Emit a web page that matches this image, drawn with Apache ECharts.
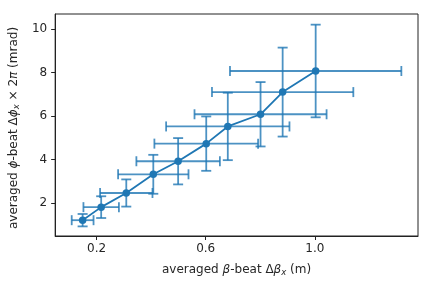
<!DOCTYPE html>
<html>
<head>
<meta charset="utf-8">
<script src="https://cdn.jsdelivr.net/npm/echarts@6/dist/echarts.min.js"></script>
<style>html,body{margin:0;padding:0;background:#fff;}#c{width:432px;height:288px;}</style>
</head>
<body>
<div id="c"></div>
<script>
var xVals = [0.149, 0.217, 0.309, 0.408, 0.499, 0.602, 0.681, 0.801, 0.882, 1.003];
var xErr  = [0.040, 0.065, 0.096, 0.129, 0.153, 0.190, 0.226, 0.242, 0.259, 0.314];
var yVals = [1.21, 1.81, 2.46, 3.32, 3.92, 4.73, 5.52, 6.08, 7.10, 8.07];
var yErr  = [0.285, 0.50, 0.625, 0.895, 1.065, 1.25, 1.55, 1.48, 2.045, 2.13];
var xTicks = [0.2, 0.6, 1.0];
var yTicks = [2, 4, 6, 8, 10];

var C0 = '#1f77b4';
var FONT = 'DejaVu Sans';
var TXT = '#262626';

var pts = xVals.map(function (x, i) { return [x, yVals[i]]; });
var errData = xVals.map(function (x, i) { return [x, yVals[i], xErr[i], yErr[i]]; });

function renderErr(params, api) {
  var x = api.value(0), y = api.value(1), dx = api.value(2), dy = api.value(3);
  var l = api.coord([x - dx, y]), r = api.coord([x + dx, y]);
  var t = api.coord([x, y + dy]), b = api.coord([x, y - dy]);
  var cap = 5;
  var st = { stroke: C0, lineWidth: 1.8, opacity: 0.8 };
  function ln(x1, y1, x2, y2) {
    return { type: 'line', shape: { x1: x1, y1: y1, x2: x2, y2: y2 }, style: st };
  }
  return {
    type: 'group',
    children: [
      ln(l[0], l[1], r[0], r[1]),
      ln(t[0], t[1], b[0], b[1]),
      ln(l[0], l[1] - cap, l[0], l[1] + cap),
      ln(r[0], r[1] - cap, r[0], r[1] + cap),
      ln(t[0] - cap, t[1], t[0] + cap, t[1]),
      ln(b[0] - cap, b[1], b[0] + cap, b[1])
    ]
  };
}

var rich = {
  n: { fontFamily: FONT, fontSize: 12, color: TXT },
  i: { fontFamily: FONT, fontSize: 12, color: TXT, fontStyle: 'italic' },
  s: { fontFamily: FONT, fontSize: 8.5, color: TXT, fontStyle: 'italic', verticalAlign: 'bottom', padding: [5, 0, 0, 0] }
};

var chart = echarts.init(document.getElementById('c'), null, { renderer: 'canvas' });
chart.setOption({
  animation: false,
  backgroundColor: '#fff',
  grid: { left: 54, right: 14, top: 14, bottom: 52, show: true, borderColor: '#222', borderWidth: 1, backgroundColor: 'transparent' },
  xAxis: {
    type: 'value', min: 0.0484, max: 1.378,
    axisLine: { show: true, lineStyle: { color: '#222', width: 1 } },
    axisTick: { show: true, length: 4, customValues: xTicks, lineStyle: { color: '#222' } },
    axisLabel: { customValues: xTicks, color: TXT, fontFamily: FONT, fontSize: 12, margin: 7,
      formatter: function (v) { return v.toFixed(1); } },
    splitLine: { show: false },
    name: '{n|averaged }{i|β}{n|-beat Δ}{i|β}{s|x}{n| (m)}',
    nameLocation: 'middle', nameGap: 27,
    nameTextStyle: { fontFamily: FONT, fontSize: 12, color: TXT, rich: rich }
  },
  yAxis: {
    type: 'value', min: 0.483, max: 10.69,
    axisLine: { show: true, lineStyle: { color: '#222', width: 1 } },
    axisTick: { show: true, length: 4, customValues: yTicks, lineStyle: { color: '#222' } },
    axisLabel: { customValues: yTicks, color: TXT, fontFamily: FONT, fontSize: 12, margin: 8 },
    splitLine: { show: false },
    name: '{n|averaged }{i|ϕ}{n|-beat Δ}{i|ϕ}{s|x}{n| × 2}{i|π}{n| (mrad)}',
    nameLocation: 'middle', nameGap: 29, nameRotate: 90,
    nameTextStyle: { fontFamily: FONT, fontSize: 12, color: TXT, rich: rich, padding: [0, 6, 0, 0] }
  },
  series: [
    {
      type: 'custom',
      renderItem: renderErr,
      data: errData,
      encode: { x: 0, y: 1 },
      z: 1,
      silent: true
    },
    {
      type: 'line',
      data: pts,
      symbol: 'circle',
      symbolSize: 7.5,
      itemStyle: { color: C0 },
      lineStyle: { color: C0, width: 1.8 },
      z: 2,
      silent: true
    }
  ]
});
</script>
</body>
</html>
